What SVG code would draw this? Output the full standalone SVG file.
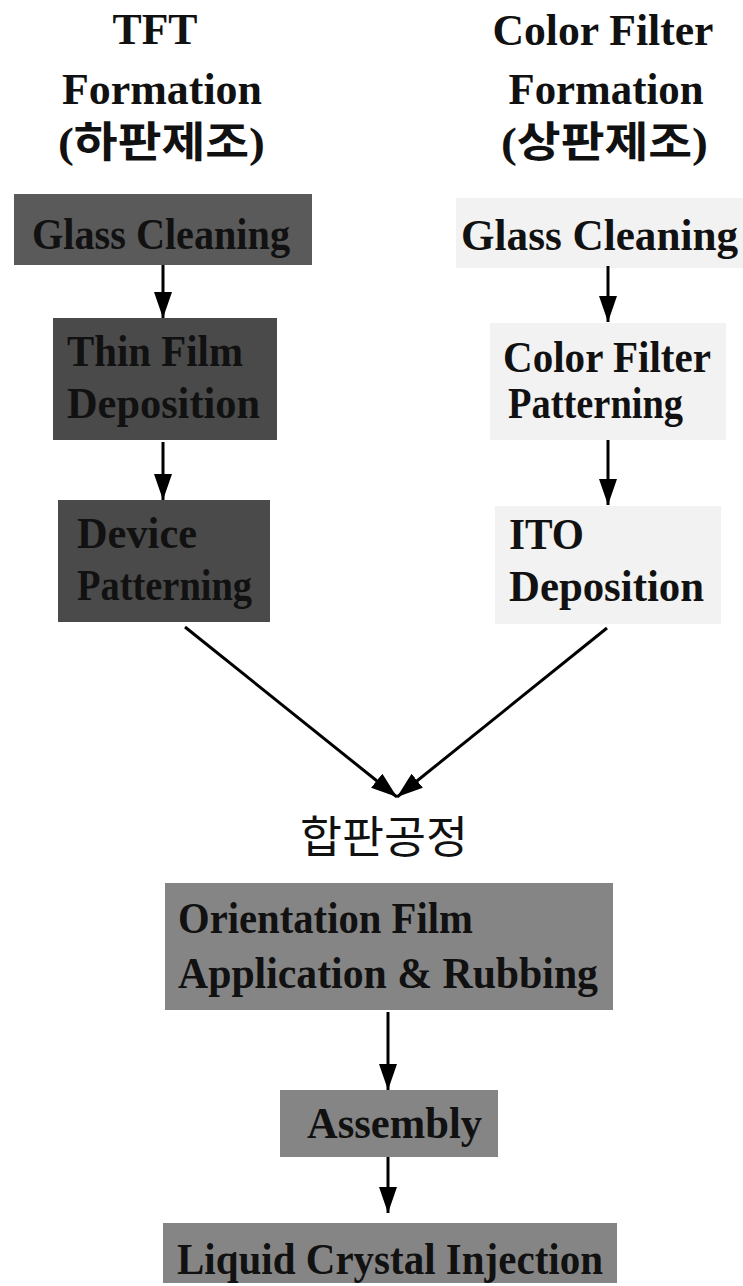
<svg xmlns="http://www.w3.org/2000/svg" width="743" height="1286" viewBox="0 0 743 1286">
<style>
.hd{font-family:"Liberation Serif","Noto Sans CJK KR",serif;font-weight:bold;font-size:44px;fill:#111;text-anchor:middle}
.kr{font-family:"Liberation Serif","Noto Sans CJK KR",serif;font-weight:bold;font-size:42px;fill:#111}
.t{font-family:"Liberation Serif",serif;font-weight:bold;font-size:44px;fill:#111}
.dark{fill:#5a5a5a}
.darker{fill:#4a4a4a}
.light{fill:#f2f2f2}
.mid{fill:#858585}
.c{stroke:#000;stroke-width:3;fill:none}
</style>
<defs>
<marker id="ah" viewBox="0 0 26 18" refX="26" refY="9" markerWidth="26" markerHeight="18" markerUnits="userSpaceOnUse" orient="auto">
<path d="M0,0 L26,9 L0,18 Z" fill="#000"/>
</marker>
</defs>

<g id="header-tft">
<text class="hd" x="155" y="44" textLength="85" lengthAdjust="spacingAndGlyphs">TFT</text>
<text class="hd" x="162" y="104" textLength="200" lengthAdjust="spacingAndGlyphs">Formation</text>
<text class="kr" x="58" y="157" textLength="207" lengthAdjust="spacingAndGlyphs">(하판제조)</text>
</g>
<g id="header-cf">
<text class="hd" x="603" y="45" textLength="221" lengthAdjust="spacingAndGlyphs">Color Filter</text>
<text class="hd" x="606" y="104" textLength="195" lengthAdjust="spacingAndGlyphs">Formation</text>
<text class="kr" x="501" y="157" textLength="207" lengthAdjust="spacingAndGlyphs">(상판제조)</text>
</g>

<g id="tft-glass-cleaning">
<rect class="dark" x="14" y="194" width="298" height="71"/>
<text class="t" x="32" y="249" font-size="48" textLength="258" lengthAdjust="spacingAndGlyphs">Glass Cleaning</text>
</g>
<g id="thin-film-deposition">
<rect class="darker" x="53" y="318" width="224" height="122"/>
<text class="t" x="67" y="366" textLength="176" lengthAdjust="spacingAndGlyphs">Thin Film</text>
<text class="t" x="67" y="418" textLength="193" lengthAdjust="spacingAndGlyphs">Deposition</text>
</g>
<g id="device-patterning">
<rect class="darker" x="58" y="500" width="212" height="122"/>
<text class="t" x="77" y="548" textLength="120" lengthAdjust="spacingAndGlyphs">Device</text>
<text class="t" x="77" y="600" textLength="175" lengthAdjust="spacingAndGlyphs">Patterning</text>
</g>

<g id="cf-glass-cleaning">
<rect class="light" x="456" y="198" width="287" height="70"/>
<text class="t" x="461" y="250" font-size="48" textLength="277" lengthAdjust="spacingAndGlyphs">Glass Cleaning</text>
</g>
<g id="color-filter-patterning">
<rect class="light" x="490" y="323" width="236" height="117"/>
<text class="t" x="503" y="372" textLength="208" lengthAdjust="spacingAndGlyphs">Color Filter</text>
<text class="t" x="508" y="418" textLength="175" lengthAdjust="spacingAndGlyphs">Patterning</text>
</g>
<g id="ito-deposition">
<rect class="light" x="495" y="506" width="226" height="118"/>
<text class="t" x="509" y="549" textLength="75" lengthAdjust="spacingAndGlyphs">ITO</text>
<text class="t" x="509" y="601" textLength="195" lengthAdjust="spacingAndGlyphs">Deposition</text>
</g>

<g id="merge-label">
<text x="300" y="853" font-family="'Noto Sans CJK KR',sans-serif" font-size="44" fill="#111" textLength="168" lengthAdjust="spacingAndGlyphs">합판공정</text>
</g>

<g id="orientation-film">
<rect class="mid" x="165" y="883" width="448" height="127"/>
<text class="t" x="178" y="933" textLength="295" lengthAdjust="spacingAndGlyphs">Orientation Film</text>
<text class="t" x="178" y="988" textLength="420" lengthAdjust="spacingAndGlyphs">Application &amp; Rubbing</text>
</g>
<g id="assembly">
<rect class="mid" x="280" y="1090" width="218" height="67"/>
<text class="t" x="307" y="1138" textLength="175" lengthAdjust="spacingAndGlyphs">Assembly</text>
</g>
<g id="liquid-crystal-injection">
<rect class="mid" x="163" y="1223" width="454" height="60"/>
<text class="t" x="177" y="1274" textLength="426" lengthAdjust="spacingAndGlyphs">Liquid Crystal Injection</text>
</g>

<g id="connectors">
<line class="c" x1="163" y1="265" x2="163" y2="318" marker-end="url(#ah)"/>
<line class="c" x1="163" y1="442" x2="163" y2="500" marker-end="url(#ah)"/>
<line class="c" x1="608" y1="266" x2="608" y2="322" marker-end="url(#ah)"/>
<line class="c" x1="608" y1="440" x2="608" y2="505" marker-end="url(#ah)"/>
<line class="c" x1="185" y1="627" x2="397" y2="797" marker-end="url(#ah)"/>
<line class="c" x1="607" y1="628" x2="397" y2="797" marker-end="url(#ah)"/>
<line class="c" x1="388" y1="1012" x2="388" y2="1090" marker-end="url(#ah)"/>
<line class="c" x1="388" y1="1157" x2="388" y2="1213" marker-end="url(#ah)"/>
</g>
</svg>
